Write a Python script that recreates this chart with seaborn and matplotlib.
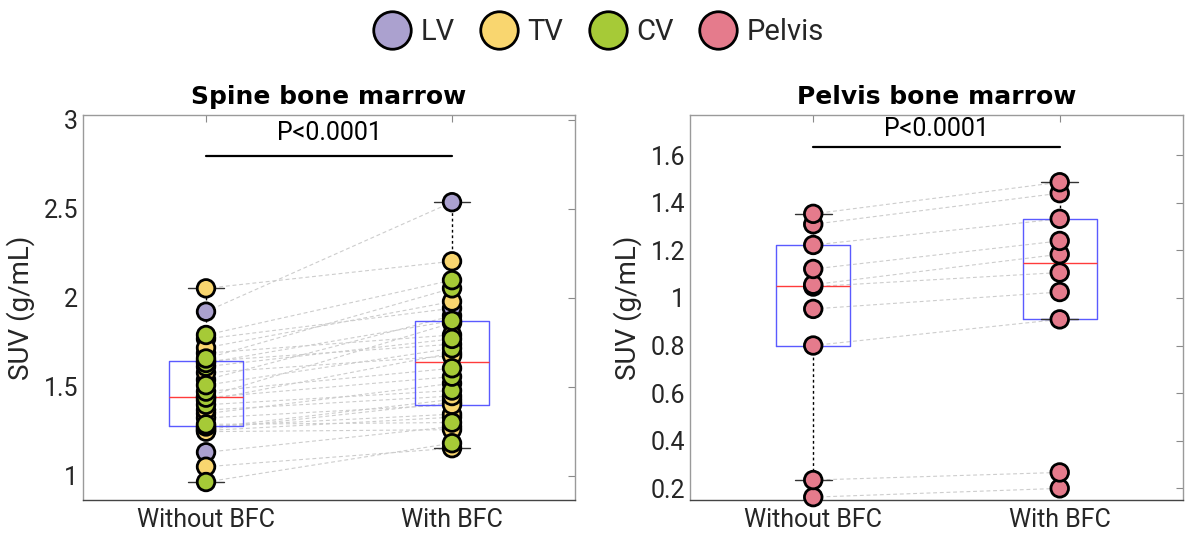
import numpy as np
import pandas as pd
import matplotlib.pyplot as plt
from matplotlib.lines import Line2D
import seaborn as sns

# ── Data ──────────────────────────────────────────────────────────────────────
groups = ["Without BFC", "With BFC"]
regions = ["LV", "TV", "CV", "Pelvis"]
region_colors = ["#ABA1CF", "#F9D66F", "#A6CA37", "#E57B8C"]

# spine bone marrow SUV (g/mL), one value per subject
lv_without = [1.133, 1.255, 1.262, 1.270, 1.350, 1.425, 1.445, 1.540, 1.770, 1.923]
lv_with    = [1.277, 1.330, 1.412, 1.430, 1.520, 1.690, 1.860, 1.900, 1.942, 2.538]
tv_without = [1.052, 1.249, 1.278, 1.326, 1.370, 1.580, 1.645, 1.690, 1.720, 2.054]
tv_with    = [1.156, 1.260, 1.347, 1.400, 1.449, 1.675, 1.740, 1.792, 1.980, 2.206]
cv_without = [0.966, 1.290, 1.400, 1.440, 1.474, 1.510, 1.614, 1.635, 1.660, 1.792]
cv_with    = [1.184, 1.300, 1.480, 1.558, 1.605, 1.717, 1.770, 1.872, 2.054, 2.100]

# pelvis bone marrow SUV (g/mL)
pelvis_without = [0.162, 0.234, 0.800, 0.954, 1.048, 1.056, 1.122, 1.223, 1.310, 1.354]
pelvis_with    = [0.199, 0.266, 0.910, 1.025, 1.107, 1.184, 1.240, 1.333, 1.441, 1.487]

titles = ["Spine bone marrow", "Pelvis bone marrow"]
p_labels = ["P<0.0001", "P<0.0001"]


def long_table(pairs):
    rows = []
    sid = 0
    for region, wo, wi in pairs:
        for a, b in zip(wo, wi):
            rows.append((sid, region, 0, a))
            rows.append((sid, region, 1, b))
            sid += 1
    return pd.DataFrame(rows, columns=["subject", "region", "x", "suv"])


spine = long_table([("LV", lv_without, lv_with),
                    ("TV", tv_without, tv_with),
                    ("CV", cv_without, cv_with)])
pelvis = long_table([("Pelvis", pelvis_without, pelvis_with)])


def box_stats(vals):
    # MATLAB-style quartiles (hazen) and 1.5 IQR whiskers
    v = np.sort(np.asarray(vals))
    q1, med, q3 = np.percentile(v, [25, 50, 75], method="hazen")
    iqr = q3 - q1
    lo = v[v >= q1 - 1.5 * iqr].min()
    hi = v[v <= q3 + 1.5 * iqr].max()
    return dict(med=med, q1=q1, q3=q3, whislo=lo, whishi=hi, fliers=[])


# ── Style ─────────────────────────────────────────────────────────────────────
sns.set_style("white")
plt.rcParams["font.family"] = ["Roboto", "DejaVu Sans"]
text_col = "#262626"
palette = dict(zip(regions, region_colors))

fig = plt.figure(figsize=(11.96, 5.37), dpi=100)
ax_l = fig.add_axes([0.0694, 0.0689, 0.4114, 0.7170])
ax_r = fig.add_axes([0.5769, 0.0689, 0.4122, 0.7170])

panels = [
    (ax_l, spine, (0.865, 3.028), [1, 1.5, 2, 2.5, 3], ["1", "1.5", "2", "2.5", "3"], 2.80, 2.925),
    (ax_r, pelvis, (0.15, 1.77), [0.2, 0.4, 0.6, 0.8, 1, 1.2, 1.4, 1.6],
     ["0.2", "0.4", "0.6", "0.8", "1", "1.2", "1.4", "1.6"], 1.636, 1.712),
]

for i, (ax, df, ylim, yt, ytl, bar_y, txt_y) in enumerate(panels):
    # paired lines
    sns.lineplot(data=df, x="x", y="suv", units="subject", estimator=None,
                 color="#cdcdcd", lw=0.8, linestyle=(0, (3.5, 2.5)),
                 legend=False, ax=ax, zorder=1)

    # boxes
    stats = [box_stats(df.loc[df["x"] == g, "suv"]) for g in (0, 1)]
    ax.bxp(stats, positions=[0, 1], widths=0.3, capwidths=0.15,
           showfliers=False, manage_ticks=False,
           boxprops=dict(color="#5a5aff", lw=1.0),
           medianprops=dict(color="#ff3b3b", lw=1.0),
           whiskerprops=dict(color="black", lw=1.0, linestyle=(0, (2, 2))),
           capprops=dict(color="#333333", lw=1.0))

    # points
    sns.scatterplot(data=df, x="x", y="suv", hue="region", palette=palette,
                    s=160, edgecolor="black", linewidth=2, legend=False,
                    ax=ax, zorder=3, clip_on=False)

    # significance bar
    ax.plot([0, 1], [bar_y, bar_y], color="black", lw=1.6)
    ax.text(0.5, txt_y, p_labels[i], ha="center", va="center",
            fontsize=18, color="black")

    ax.set_xlim(-0.5, 1.5)
    ax.set_ylim(*ylim)
    ax.set_xticks([0, 1])
    ax.set_xticklabels(groups)
    ax.set_yticks(yt)
    ax.set_yticklabels(ytl)
    ax.set_xlabel("")
    ax.set_ylabel("SUV (g/mL)", fontsize=20, color=text_col, labelpad=6)
    ax.set_title(titles[i], fontsize=18, fontweight="bold",
                 family="DejaVu Sans", color="black", pad=8)
    ax.tick_params(direction="in", top=True, right=True, length=5,
                   color="#8a8a8a", labelsize=18, labelcolor=text_col)
    ax.tick_params(axis="x", pad=6)
    for side, sp in ax.spines.items():
        sp.set_color("#444444" if side == "bottom" else "#9a9a9a")
        sp.set_linewidth(1.0)

# ── Legend ────────────────────────────────────────────────────────────────────
handles = [Line2D([], [], marker="o", ls="", markersize=27,
                  markerfacecolor=c, markeredgecolor="black", markeredgewidth=2)
           for c in region_colors]
fig.legend(handles, regions, loc="upper center", bbox_to_anchor=(0.5, 1.015),
           ncol=4, frameon=False, fontsize=21, handletextpad=0.3,
           columnspacing=0.85, handlelength=1.35)

plt.savefig("out.png", dpi=100)
